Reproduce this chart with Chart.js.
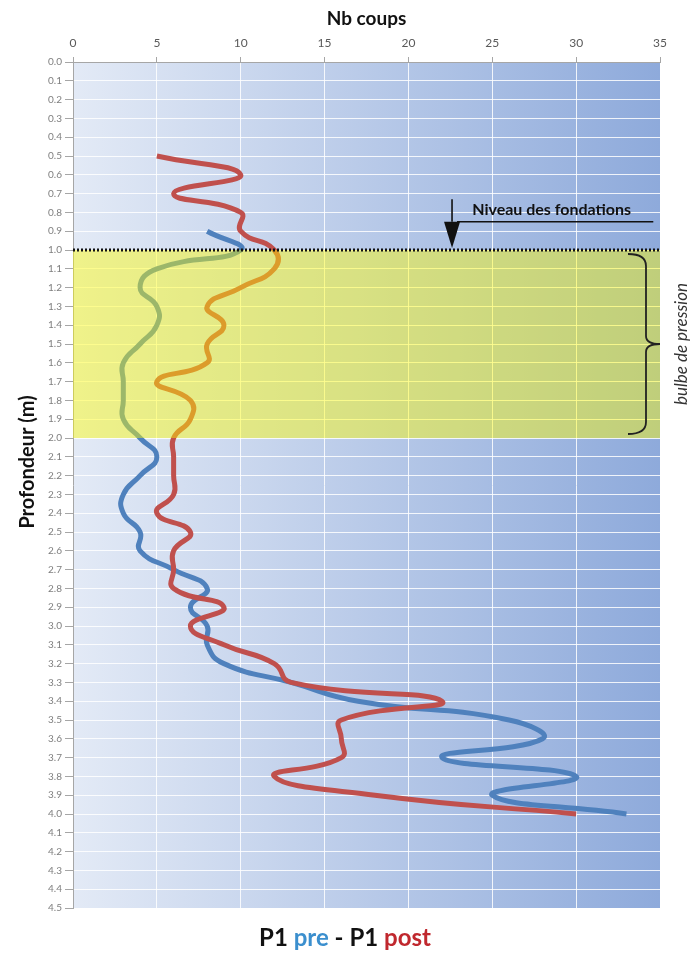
<!DOCTYPE html>
<html>
<head>
<meta charset="utf-8">
<script src="https://cdn.jsdelivr.net/npm/chart.js@4/dist/chart.umd.min.js"></script>
<style>
body{margin:0;background:#fff}
#wrap{position:relative;width:690px;height:956px}
#titre{position:absolute;left:0;top:922px;width:690px;text-align:center;font:bold 24px Lato,sans-serif;color:#111}
</style>
</head>
<body>
<div id="wrap">
<canvas id="chartCanvas" width="690" height="956"></canvas>
<div id="titre">P1 <span style="color:#3b8fce">pre</span> - P1 <span style="color:#c0282e">post</span></div>
</div>
<script>
let depthPre=[0.9,1.0,1.1,1.2,1.3,1.4,1.5,1.6,1.7,1.8,1.9,2.0,2.1,2.2,2.3,2.4,2.5,2.6,2.7,2.8,2.9,3.0,3.1,3.2,3.3,3.4,3.5,3.6,3.7,3.8,3.9,4.0]
let pre=[8,10,5,4,5,5,4,3,3,3,3,4,5,4,3,3,4,4,6,8,7,8,8,9,13,17,26,28,22,30,25,33]
let depthPost=[0.5,0.6,0.7,0.8,0.9,1.0,1.1,1.2,1.3,1.4,1.5,1.6,1.7,1.8,1.9,2.0,2.1,2.2,2.3,2.4,2.5,2.6,2.7,2.8,2.9,3.0,3.1,3.2,3.3,3.4,3.5,3.6,3.7,3.8,3.9,4.0]
let post=[5,10,6,10,10,12,12,10,8,9,8,8,5,7,7,6,6,6,6,5,7,6,6,6,9,7,9,12,13,22,16,16,16,12,18,30]
let bulbe=[1.0,2.0]
let fondation=1.0

let chartCanvas=document.querySelector("#chartCanvas")
let font="Lato, 'Open Sans', sans-serif"

let decor={
    id:"decor",
    beforeDraw:(c)=>{
        let a=c.chartArea,ctx=c.ctx
        let g=ctx.createLinearGradient(a.left,0,a.right,0)
        g.addColorStop(0,"#e3eaf6")
        g.addColorStop(1,"#8eaadb")
        ctx.save()
        ctx.fillStyle=g
        ctx.fillRect(a.left,a.top,a.width,a.height)
        ctx.restore()
    },
    afterDatasetsDraw:(c)=>{
        let a=c.chartArea,ctx=c.ctx,x=c.scales.x,y=c.scales.y
        let y1=y.getPixelForValue(bulbe[0]),y2=y.getPixelForValue(bulbe[1]),ym=(y1+y2)/2
        ctx.save()
        ctx.fillStyle="rgba(255,252,0,0.44)"
        ctx.fillRect(a.left,y1,a.width,y2-y1)

        let yf=y.getPixelForValue(fondation)
        ctx.strokeStyle="#111"
        ctx.lineWidth=3
        ctx.setLineDash([2,2])
        ctx.beginPath();ctx.moveTo(a.left,yf);ctx.lineTo(a.right,yf);ctx.stroke()
        ctx.setLineDash([])

        // fleche niveau des fondations
        let ax=x.getPixelForValue(22.6),top=y.getPixelForValue(0.73),base=y.getPixelForValue(0.85)
        ctx.lineWidth=1.6
        ctx.beginPath();ctx.moveTo(ax,top);ctx.lineTo(ax,base);ctx.stroke()
        ctx.fillStyle="#111"
        ctx.beginPath();ctx.moveTo(ax-8,base);ctx.lineTo(ax+8,base);ctx.lineTo(ax,yf-2);ctx.closePath();ctx.fill()
        ctx.beginPath();ctx.moveTo(ax+5,base);ctx.lineTo(x.getPixelForValue(34.6),base);ctx.stroke()
        ctx.font="bold 16px "+font
        ctx.textBaseline="alphabetic"
        ctx.fillText("Niveau des fondations",x.getPixelForValue(23.8),y.getPixelForValue(0.815))

        // accolade
        let bx=a.right-14
        ctx.lineWidth=1.8
        ctx.strokeStyle="#222"
        ctx.beginPath()
        ctx.moveTo(bx-18,y1+4)
        ctx.quadraticCurveTo(bx,y1+4,bx,y1+16)
        ctx.lineTo(bx,ym-8)
        ctx.quadraticCurveTo(bx,ym,bx+14,ym)
        ctx.quadraticCurveTo(bx,ym,bx,ym+8)
        ctx.lineTo(bx,y2-16)
        ctx.quadraticCurveTo(bx,y2-4,bx-18,y2-4)
        ctx.stroke()

        ctx.translate(a.right+22,ym)
        ctx.rotate(-Math.PI/2)
        ctx.font="italic 17px "+font
        ctx.fillStyle="#333"
        ctx.textAlign="center"
        ctx.textBaseline="middle"
        ctx.fillText("bulbe de pression",0,0)
        ctx.restore()

        ctx.save()
        ctx.translate(28,(a.top+a.bottom)/2-23)
        ctx.rotate(-Math.PI/2)
        ctx.font="bold 20px "+font
        ctx.fillStyle="#111"
        ctx.textAlign="center"
        ctx.textBaseline="middle"
        ctx.fillText("Profondeur (m)",0,0)
        ctx.restore()
    }
}

let chart=new Chart(chartCanvas,{
    type:"line",
    data:{
        datasets:[
            {label:"P1 post",data:post.map((v,i)=>({x:v,y:depthPost[i]})),borderColor:"#c0504d",borderWidth:5,pointRadius:0,tension:0.5,fill:false},
            {label:"P1 pre",data:pre.map((v,i)=>({x:v,y:depthPre[i]})),borderColor:"#4f81bd",borderWidth:5,pointRadius:0,tension:0.5,fill:false}
        ]
    },
    options:{
        responsive:false,
        animation:false,
        layout:{padding:{left:0,right:30,top:0,bottom:48}},
        plugins:{legend:{display:false},tooltip:{enabled:false}},
        scales:{
            x:{
                type:"linear",position:"top",min:0,max:35,
                ticks:{stepSize:5,color:"#595959",font:{family:font,size:12},padding:7},
                grid:{color:"rgba(255,255,255,0.85)",tickColor:"#a6a6a6",tickLength:5},
                border:{color:"#a6a6a6"},
                title:{display:true,text:"Nb coups",color:"#111",font:{family:font,size:19,weight:"bold"},padding:{top:7,bottom:0}},
                afterFit:(s)=>{s.height=62}
            },
            y:{
                type:"linear",reverse:true,min:0,max:4.5,
                ticks:{stepSize:0.1,autoSkip:false,color:"#7f7f7f",font:{family:font,size:10},padding:3,callback:(v)=>v.toFixed(1)},
                grid:{color:"rgba(255,255,255,0.85)",tickColor:"#a6a6a6",tickLength:8},
                border:{color:"#a6a6a6"},
                afterFit:(s)=>{s.width=73}
            }
        }
    },
    plugins:[decor]
})
</script>
</body>
</html>
